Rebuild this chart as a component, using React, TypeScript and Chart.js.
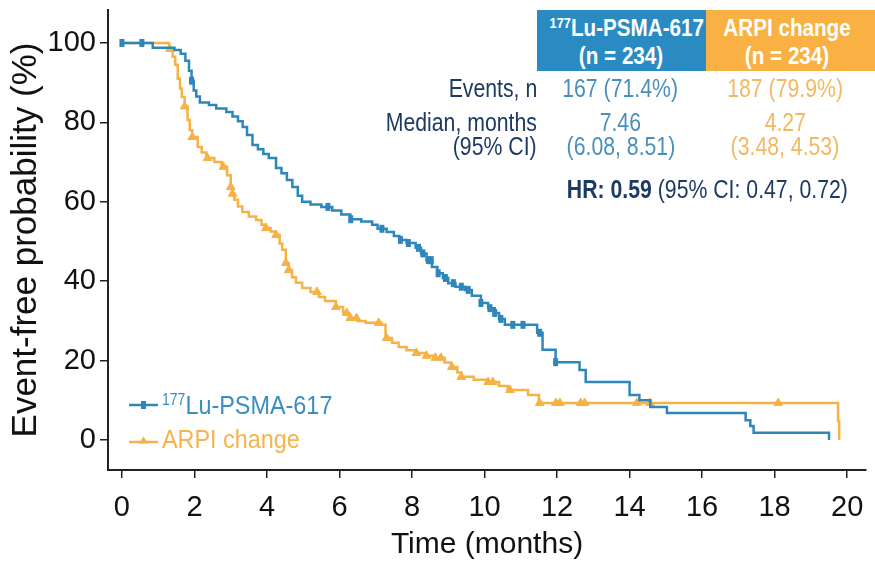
import React, { useEffect, useRef } from "react";
import { Chart, registerables } from "chart.js";
Chart.register(...registerables);

// ---------- data ----------
const luCurve: number[][] = [
  [0, 100], [0.85, 98.8], [1.45, 98.2], [1.62, 97.3], [1.75, 95.5], [1.85, 93], [1.92, 90.5], [1.98, 88],
  [2.05, 86.5], [2.15, 85], [2.4, 84.4], [2.6, 83.5], [2.88, 82.6], [3.05, 81.5], [3.2, 80.3], [3.33, 78.8],
  [3.45, 76.8], [3.6, 74.3], [3.75, 73.2], [3.9, 72], [4.05, 71], [4.25, 68.5], [4.4, 67.2], [4.55, 65.5],
  [4.7, 63.7], [4.85, 61.5], [4.97, 60], [5.2, 59.3], [5.5, 58.7], [5.8, 57.8], [6.05, 56.8], [6.3, 55.6],
  [6.6, 55], [6.9, 54.2], [7.05, 53.2], [7.3, 52.4], [7.5, 51.4], [7.65, 50.4], [7.85, 49.6], [8.1, 48.4],
  [8.25, 47], [8.4, 45.3], [8.55, 43.6], [8.7, 42], [8.85, 40.8], [9.0, 39.5], [9.2, 38.6], [9.46, 37.8],
  [9.65, 36.3], [9.9, 34.5], [10.1, 33.2], [10.28, 32], [10.4, 30.5], [10.56, 29], [11.45, 27], [11.6, 22.7],
  [11.96, 19.6], [12.62, 17.6], [12.79, 14.6], [14.0, 11.3], [14.27, 10.0], [14.57, 8.3], [15.03, 6.8],
  [17.2, 5.0], [17.33, 3.5], [17.42, 1.8], [19.5, 0],
];
const luCensored: number[][] = [
  [0, 100], [0.55, 100], [1.92, 90.5], [5.68, 58.7], [6.31, 55.6], [7.17, 53.2], [7.68, 50.4], [7.9, 49.6],
  [8.18, 48.4], [8.3, 47], [8.45, 45.3], [8.53, 45.3], [8.72, 42], [8.92, 40.8], [9.14, 39.5], [9.36, 38.6],
  [9.55, 37.8], [9.9, 34.5], [10.15, 33.2], [10.28, 32], [10.45, 30.5], [10.78, 29], [11.06, 29],
  [11.52, 27], [11.96, 19.6],
];
const arpiCurve: number[][] = [
  [0, 100], [1.3, 98.5], [1.4, 96.5], [1.47, 94.5], [1.54, 91], [1.6, 88.5], [1.65, 86.4], [1.73, 84],
  [1.81, 80.6], [1.87, 78], [1.94, 76.3], [2.09, 73.8], [2.2, 72.4], [2.33, 71], [2.55, 70], [2.75, 68.8],
  [2.9, 66.7], [3.0, 63.7], [3.05, 62], [3.1, 60.5], [3.2, 58.8], [3.32, 57.4], [3.5, 56.3], [3.7, 55.4],
  [3.85, 54.2], [3.97, 53.4], [4.1, 52.5], [4.24, 51.6], [4.35, 49.5], [4.42, 47.9], [4.52, 44.6],
  [4.6, 42.8], [4.69, 41], [4.8, 39.6], [4.97, 38.3], [5.2, 37.3], [5.43, 36], [5.6, 35], [5.9, 33.5],
  [6.1, 32], [6.26, 30.7], [6.5, 30], [6.72, 29.5], [7.16, 29], [7.27, 25.7], [7.45, 24.5], [7.63, 23.4],
  [7.85, 22.6], [8.09, 21.9], [8.4, 21.2], [8.64, 20.7], [8.9, 19.5], [9.08, 18.4], [9.25, 17], [9.36, 15.9],
  [9.7, 15.2], [10.1, 14.6], [10.4, 13.6], [10.64, 12.6], [11.2, 11.3], [11.5, 9.3], [19.75, 4.8], [19.78, 0],
];
const arpiCensored: number[][] = [
  [1.32, 98.5], [1.73, 84], [1.94, 76.3], [2.36, 71], [2.8, 68.8], [3.0, 63.7], [3.05, 62], [3.97, 53.4],
  [4.25, 51.6], [4.52, 44.6], [4.6, 42.8], [5.38, 37.3], [5.9, 33.5], [6.2, 32], [6.3, 30.7], [6.47, 30.7],
  [7.08, 29.5], [7.3, 25.7], [8.12, 21.9], [8.4, 21.2], [8.64, 20.7], [8.8, 20.7], [9.1, 18.4], [9.36, 15.9],
  [10.1, 14.6], [10.23, 14.6], [10.7, 12.6], [11.52, 9.3], [11.97, 9.3], [12.08, 9.3], [12.65, 9.3],
  [12.76, 9.3], [14.2, 9.3], [14.57, 9.3], [18.1, 9.3],
];
const xTicks = [0, 2, 4, 6, 8, 10, 12, 14, 16, 18, 20];
const yTicks = [0, 20, 40, 60, 80, 100];
const seriesNames = ["Lu-PSMA-617", "ARPI change"];
const isotope = "177";
const tableRowLabels = ["Events, n", "Median, months", "(95% CI)"];
const luStats = ["167 (71.4%)", "7.46", "(6.08, 8.51)"];
const arpiStats = ["187 (79.9%)", "4.27", "(3.48, 4.53)"];
const nPerArm = [234, 234];
const hrText = ["HR: 0.59", " (95% CI: 0.47, 0.72)"];

// ---------- style ----------
const BLUE = "#2d87bb";
const ORANGE = "#f6b244";
const NAVY = "#1d3a64";
const SANS = "'Liberation Sans', Arial, sans-serif";

const toXY = (arr: number[][]) => arr.map(([x, y]) => ({ x, y }));

const legendPlugin = {
  id: "kmLegend",
  afterDraw(chart: any) {
    const ctx = chart.ctx;
    ctx.save();
    ctx.strokeStyle = BLUE;
    ctx.lineWidth = 2.5;
    ctx.beginPath();
    ctx.moveTo(129, 405);
    ctx.lineTo(158, 405);
    ctx.stroke();
    ctx.lineWidth = 5;
    ctx.beginPath();
    ctx.moveTo(143.5, 401);
    ctx.lineTo(143.5, 409);
    ctx.stroke();
    ctx.strokeStyle = ORANGE;
    ctx.fillStyle = ORANGE;
    ctx.lineWidth = 2.5;
    ctx.beginPath();
    ctx.moveTo(129, 442);
    ctx.lineTo(158, 442);
    ctx.stroke();
    ctx.beginPath();
    ctx.moveTo(143.5, 436.5);
    ctx.lineTo(148, 443.5);
    ctx.lineTo(139, 443.5);
    ctx.closePath();
    ctx.fill();
    ctx.restore();
  },
};

// narrow text helper: Liberation Sans squeezed horizontally
function Narrow(props: { children: any; scale: number; align: "left" | "center" | "right"; style?: any }) {
  const origin = props.align === "left" ? "left center" : props.align === "right" ? "right center" : "center center";
  return (
    <div style={{ textAlign: props.align, whiteSpace: "nowrap", ...props.style }}>
      <span style={{ display: "inline-block", transform: `scaleX(${props.scale})`, transformOrigin: origin }}>
        {props.children}
      </span>
    </div>
  );
}

export default function App() {
  const ref = useRef<HTMLCanvasElement | null>(null);

  useEffect(() => {
    if (!ref.current) return;
    const tickFont = { family: SANS, size: 29 };
    const chart = new Chart(ref.current, {
      type: "line",
      data: {
        datasets: [
          {
            label: seriesNames[0] + " censored",
            data: toXY(luCensored),
            showLine: false,
            pointStyle: "line",
            rotation: 90,
            pointRadius: 4,
            pointBorderWidth: 5,
            borderColor: BLUE,
            backgroundColor: BLUE,
          } as any,
          {
            label: seriesNames[0],
            data: toXY(luCurve),
            stepped: "before",
            borderColor: BLUE,
            borderWidth: 2.5,
            pointRadius: 0,
            fill: false,
          } as any,
          {
            label: seriesNames[1] + " censored",
            data: toXY(arpiCensored),
            showLine: false,
            pointStyle: "triangle",
            pointRadius: 5,
            pointBorderWidth: 1,
            borderColor: ORANGE,
            backgroundColor: ORANGE,
          } as any,
          {
            label: seriesNames[1],
            data: toXY(arpiCurve),
            stepped: "before",
            borderColor: ORANGE,
            borderWidth: 2.5,
            pointRadius: 0,
            fill: false,
          } as any,
        ],
      },
      options: {
        animation: false,
        responsive: false,
        maintainAspectRatio: false,
        parsing: false as any,
        layout: { padding: { top: 10, right: 5, left: 0, bottom: 0 } },
        plugins: { legend: { display: false }, tooltip: { enabled: false } },
        scales: {
          x: {
            type: "linear",
            min: -0.384,
            max: 20.52,
            afterBuildTicks: (s: any) => {
              s.ticks = xTicks.map((v) => ({ value: v }));
            },
            afterFit: (s: any) => {
              s.height = 93;
              s.paddingLeft = 0;
              s.paddingRight = 0;
            },
            grid: { drawOnChartArea: false, drawTicks: true, tickLength: 8, color: "#222", lineWidth: 1.5 },
            border: { color: "#222", width: 2 },
            ticks: { font: tickFont, color: "#111", padding: 13, maxRotation: 0, autoSkip: false },
            title: { display: true, text: "Time (months)", font: { family: SANS, size: 30 }, color: "#111", padding: 0 },
          },
          y: {
            type: "linear",
            min: -7.56,
            max: 108.3,
            afterBuildTicks: (s: any) => {
              s.ticks = yTicks.map((v) => ({ value: v }));
            },
            afterFit: (s: any) => {
              s.width = 108;
              s.paddingTop = 0;
              s.paddingBottom = 0;
            },
            grid: { drawOnChartArea: false, drawTicks: true, tickLength: 8, color: "#222", lineWidth: 1.5 },
            border: { color: "#222", width: 2 },
            ticks: { font: tickFont, color: "#111", padding: 4, autoSkip: false },
            title: {
              display: true,
              text: "Event-free probability (%)",
              font: { family: SANS, size: 35 },
              color: "#111",
              padding: { top: 5, bottom: 0 },
            },
          },
        },
      },
      plugins: [legendPlugin],
    } as any);
    return () => chart.destroy();
  }, []);

  const abs = (o: any) => ({ position: "absolute" as const, ...o });
  const headerBox = {
    top: 10,
    width: 169,
    height: 61,
    color: "#fff",
    fontFamily: SANS,
    fontWeight: "bold" as const,
    fontSize: 24,
    lineHeight: "28px",
    paddingTop: 4,
    boxSizing: "border-box" as const,
  };
  const rowTops = [76, 110, 134];
  const cellFont = { fontFamily: SANS, fontSize: 25, lineHeight: 1 };
  const SX = 0.85;

  return (
    <div style={{ position: "absolute", left: 0, top: 0, width: 875, height: 563, background: "#fff", overflow: "hidden" }}>
      <canvas ref={ref} width={875} height={563} style={{ position: "absolute", left: 0, top: 0 }} />
      {/* header boxes */}
      <div style={abs({ ...headerBox, left: 537, background: "#2a8bc3" })}>
        <Narrow scale={0.86} align="center">
          <sup style={{ fontSize: "62%", verticalAlign: "0.55em", lineHeight: 0 }}>{isotope}</sup>
          {seriesNames[0]}
        </Narrow>
        <Narrow scale={0.86} align="center">(n = {nPerArm[0]})</Narrow>
      </div>
      <div style={abs({ ...headerBox, left: 706, width: 169, background: "#f8b142" })}>
        <Narrow scale={0.86} align="center" style={{ marginLeft: -6 }}>{seriesNames[1]}</Narrow>
        <Narrow scale={0.86} align="center" style={{ marginLeft: -6 }}>(n = {nPerArm[1]})</Narrow>
      </div>
      {/* rows */}
      {tableRowLabels.map((lab, i) => (
        <Narrow key={"l" + i} scale={SX} align="right" style={abs({ ...cellFont, left: 300, width: 237, top: rowTops[i], color: NAVY })}>
          {lab}
        </Narrow>
      ))}
      {luStats.map((v, i) => (
        <Narrow key={"b" + i} scale={SX} align="center" style={abs({ ...cellFont, left: 537, width: 167, top: rowTops[i], color: "#4a8fbb" })}>
          {v}
        </Narrow>
      ))}
      {arpiStats.map((v, i) => (
        <Narrow key={"o" + i} scale={SX} align="center" style={abs({ ...cellFont, left: 706, width: 158, top: rowTops[i], color: "#f2b862" })}>
          {v}
        </Narrow>
      ))}
      <Narrow scale={SX} align="center" style={abs({ ...cellFont, left: 540, width: 334, top: 177, color: NAVY })}>
        <b>{hrText[0]}</b>
        {hrText[1]}
      </Narrow>
      {/* legend text */}
      <Narrow scale={0.9} align="left" style={abs({ fontFamily: SANS, fontSize: 26, lineHeight: 1, left: 162, top: 392, color: "#3a8fc0" })}>
        <sup style={{ fontSize: "60%", verticalAlign: "0.55em", lineHeight: 0 }}>{isotope}</sup>
        {seriesNames[0]}
      </Narrow>
      <Narrow scale={0.9} align="left" style={abs({ fontFamily: SANS, fontSize: 26, lineHeight: 1, left: 162, top: 426, color: "#f5b44c" })}>
        {seriesNames[1]}
      </Narrow>
    </div>
  );
}
